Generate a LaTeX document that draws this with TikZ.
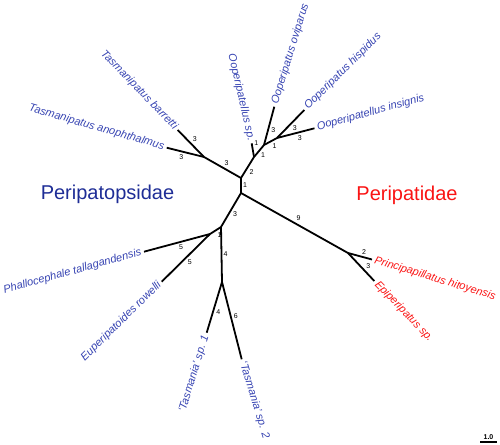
\documentclass[tikz,border=0pt]{standalone}
\usepackage{fontspec}
\setmainfont{Liberation Sans}
\usetikzlibrary{arrows}
\definecolor{taxblue}{RGB}{55,68,178}
\definecolor{famblue}{RGB}{30,45,150}
\definecolor{famred}{RGB}{250,20,20}

\begin{document}
\begin{tikzpicture}[x=1pt,y=-1pt,line width=1.8pt,auto,
                    len/.style={font=\fontsize{7}{8}\selectfont,inner sep=1.2pt},
                    taxon/.style={font=\fontsize{11}{13}\selectfont\itshape,
                                  text=taxblue,inner sep=2pt},
                    redtaxon/.style={taxon,text=famred},
                    family/.style={font=\fontsize{20}{24}\selectfont,anchor=base}]
  \useasboundingbox (0,0) rectangle (500,444);

  % inner nodes
  \coordinate (A)  at (241,178);
  \coordinate (B)  at (241,193);
  \coordinate (C)  at (221,227);
  \coordinate (D)  at (210,234);
  \coordinate (F)  at (222,282);
  \coordinate (T)  at (204,157);
  \coordinate (O1) at (254,157);
  \coordinate (O2) at (264,145);
  \coordinate (O3) at (277,138);
  \coordinate (P)  at (348,253);

  % tips
  \coordinate (tbar) at (177.7,130);
  \coordinate (tano) at (166.7,147.7);
  \coordinate (osp)  at (251.7,143.3);
  \coordinate (oovi) at (274.3,106.7);
  \coordinate (ohis) at (304.3,110);
  \coordinate (oins) at (314.5,128.3);
  \coordinate (phit) at (372,259.5);
  \coordinate (esp)  at (374.3,281);
  \coordinate (ptal) at (144,251.7);
  \coordinate (erow) at (161.7,281.7);
  \coordinate (tas1) at (206.7,332.7);
  \coordinate (tas2) at (241.7,359.3);

  \path (A) edge node[len]      {1} (B)
            edge node[len,swap] {3} (T)
            edge node[len,swap] {2} (O1)
        (T) edge node[len,swap] {3} (tbar)
            edge node[len]      {3} (tano)
        (O1) edge node[len,swap,pos=0.7] {1} (osp)
             edge node[len,swap] {1} (O2)
        (O2) edge node[len,swap] {3} (oovi)
             edge node[len,swap] {1} (O3)
        (O3) edge node[len,swap] {3} (ohis)
             edge node[len,swap] {3} (oins)
        (B) edge node[len] {3} (C)
            edge node[len] {9} (P)
        (P) edge node[len] {2} (phit)
            edge node[len,pos=0.62] {3} (esp)
        (C) edge node[len] {1} (D)
            edge node[len] {4} (F)
        (D) edge node[len] {5} (ptal)
            edge node[len] {5} (erow)
        (F) edge node[len] {4} (tas1)
            edge node[len] {6} (tas2);

  % tip labels
  \node[taxon,anchor=east,rotate=-46]  (lbar) at (tbar) {Tasmanipatus barretti};
  \node[taxon,anchor=east,rotate=-16]  (lano) at (tano) {Tasmanipatus anophthalmus};
  \node[taxon,anchor=east,rotate=-77]  (lsp)  at (osp)  {Ooperipatellus sp.};
  \node[taxon,anchor=west,rotate=73]   (lovi) at (oovi) {Ooperipatus oviparus};
  \node[taxon,anchor=west,rotate=45]   (lhis) at (ohis) {Ooperipatus hispidus};
  \node[taxon,anchor=west,rotate=15.5] (lins) at (oins) {Ooperipatellus insignis};
  \node[redtaxon,anchor=west,rotate=-17] (lhit) at (phit) {Principapillatus hitoyensis};
  \node[redtaxon,anchor=west,rotate=-46] (lesp) at (esp)  {Epiperipatus sp.};
  \node[taxon,anchor=east,rotate=15.5] (ltal) at (ptal) {Phallocephale tallagandensis};
  \node[taxon,anchor=east,rotate=44.5] (lrow) at (erow) {Euperipatoides rowelli};
  \node[taxon,anchor=east,rotate=73]   (ltas1) at (tas1) {`Tasmania' sp. 1};
  \node[taxon,anchor=west,rotate=-73]  (ltas2) at (tas2) {`Tasmania' sp. 2};

  % families
  \node[family,text=famblue] (opsidae) at (107.5,199.5) {Peripatopsidae};
  \node[family,text=famred]  (tidae)   at (407,200)     {Peripatidae};

  % scale bar
  \coordinate (s1) at (480,442);
  \coordinate (s2) at (497,442);
  \draw[line width=1.3pt] (s1) -- node[above,inner sep=1.5pt,
        font=\bfseries\fontsize{7}{8}\selectfont] (bar) {1.0} (s2);
\end{tikzpicture}
\end{document}
